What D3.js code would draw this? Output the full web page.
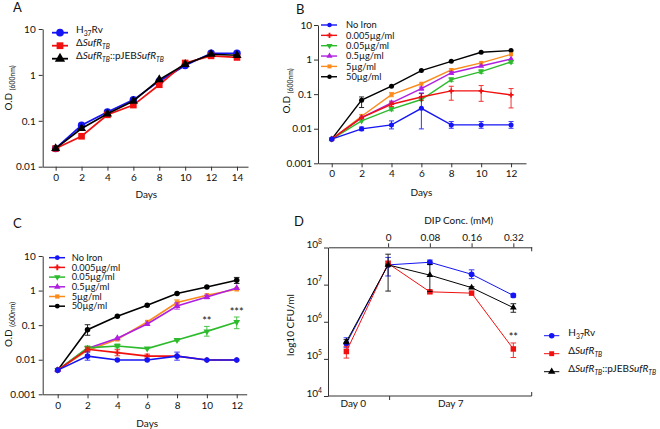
<!DOCTYPE html>
<html><head><meta charset="utf-8">
<script src="https://cdn.jsdelivr.net/npm/d3@7"></script>
<style>body{margin:0;background:#fff} svg{display:block} text{font-family:Lato,'Open Sans',sans-serif;fill:#111}</style>
</head><body><svg id="c" width="660" height="429"></svg>
<script>
// ---------- DATA ----------
// Panel A
const A_days = [0,2,4,6,8,10,12,14];
const A_H37Rv = [0.025,0.08,0.155,0.286,0.73,1.6,2.96,2.96];
const A_dSufR = [0.025,0.046,0.135,0.22,0.61,1.82,2.6,2.4];
const A_comp  = [0.025,0.068,0.142,0.27,0.79,1.7,2.82,2.68];
const A_yTicks = [0.01,0.1,1,10];
const A_yTickLabels = ["0.01","0.1","1","10"];
// Panel B
const B_days = [0,2,4,6,8,10,12];
const B_noIron = [0.005,0.0099,0.0129,0.039,0.0129,0.0129,0.0129];
const B_noIron_err = [null,[0.0088,0.0112],[0.0099,0.0168],[0.0099,0.108],[0.0103,0.0161],[0.0103,0.0161],[0.0103,0.0161]];
const B_fe0005 = [0.005,0.021,0.051,0.083,0.124,0.124,0.095];
const B_fe0005_err = [null,null,[0.044,0.059],[0.066,0.104],[0.0667,0.169],[0.062,0.177],[0.04,0.145]];
const B_fe005 = [0.005,0.0168,0.037,0.07,0.264,0.45,0.85];
const B_fe005_err = [null,null,[0.033,0.041],null,[0.23,0.3],[0.4,0.51],[0.78,0.93]];
const B_fe05 = [0.005,0.021,0.056,0.145,0.41,0.65,1.04];
const B_fe05_err = [null,null,[0.05,0.063],[0.13,0.16],[0.37,0.45],null,null];
const B_fe5 = [0.005,0.023,0.097,0.2,0.5,0.8,1.42];
const B_fe5_err = [null,[0.021,0.026],[0.084,0.112],null,[0.46,0.54],null,null];
const B_fe50 = [0.005,0.067,0.17,0.48,0.89,1.63,1.82];
const B_fe50_err = [null,[0.041,0.083],null,null,null,null,null];
// Panel C
const C_days = [0,2,4,6,8,10,12];
const C_noIron = [0.005,0.0127,0.0098,0.0098,0.0127,0.0098,0.0098];
const C_noIron_err = [null,[0.0097,0.0166],null,null,[0.0097,0.0166],null,null];
const C_fe0005 = [0.005,0.02,0.016,0.0127,0.0127,0.0098,0.0098];
const C_fe0005_err = [null,[0.0175,0.023],[0.013,0.0195],[0.0112,0.0145],null,null,null];
const C_fe005 = [0.005,0.022,0.025,0.021,0.037,0.066,0.123];
const C_fe005_err = [null,[0.0193,0.025],[0.022,0.0285],null,[0.035,0.039],[0.048,0.092],[0.079,0.172]];
const C_fe05 = [0.005,0.021,0.042,0.108,0.358,0.65,1.19];
const C_fe05_err = [null,null,null,null,[0.29,0.44],[0.58,0.73],null];
const C_fe5 = [0.005,0.0186,0.039,0.123,0.45,0.73,1.09];
const C_fe5_err = [null,null,null,null,[0.37,0.54],null,null];
const C_fe50 = [0.005,0.074,0.18,0.375,0.82,1.27,2.0];
const C_fe50_err = [null,[0.051,0.103],null,null,null,null,[1.6,2.4]];
const BC_yTicks = [0.001,0.01,0.1,1,10];
const BC_yTickLabels = ["0.001","0.01","0.1","1","10"];
const ironLabels = ["No Iron","0.005\u00b5g/ml","0.05\u00b5g/ml","0.5\u00b5g/ml","5\u00b5g/ml","50\u00b5g/ml"];
// Panel D
const D_groups = ["Day0","0","0.08","0.16","0.32"];
const D_topTicks = ["0","0.08","0.16","0.32"];
const D_dayLabels = ["Day 0","Day 7"];
const D_H37Rv = [2.6e5,3.4e7,4.0e7,1.9e7,5.1e6];
const D_H37Rv_err = [[2.0e5,3.7e5],[1.71e7,5.4e7],[3.46e7,4.6e7],[1.45e7,2.5e7],[4.6e6,5.6e6]];
const D_dSufR = [1.58e5,3.7e7,6.4e6,5.9e6,1.85e5];
const D_dSufR_err = [[1.05e5,2.17e5],[3.3e7,4.3e7],[5.9e6,6.9e6],null,[1.09e5,2.68e5]];
const D_comp = [2.9e5,3.4e7,1.8e7,8.3e6,2.4e6];
const D_comp_err = [[2.55e5,3.3e5],[6.7e6,6.6e7],[6.5e6,3.5e7],[7.8e6,8.8e6],[1.8e6,3.06e6]];
const D_yTicks = [1e4,1e5,1e6,1e7,1e8];
const D_yExp = ["4","5","6","7","8"];
// Legend labels (segments: "" normal, i italic, s subscript, si italic subscript)
const strainLabels = [
  [["H",""],["37","s"],["Rv",""]],
  [["\u0394",""],["SufR","i"],["TB","si"]],
  [["\u0394",""],["SufR","i"],["TB","si"],["::pJEB",""],["SufR","i"],["TB","si"]]
];
const odLabel = [["O.D ",""],["(600nm)","s"]];

// ---------- HELPERS ----------
const svg = d3.select("#c");
const AX = "#333";
const COL = {blue:"#1414f5", red:"#f01010", green:"#2dbb2d", purple:"#b01fe0", orange:"#fb8c1c", black:"#000"};
const TRI_DOWN = "down";

function rich(t, segs, fs){
  let shift = 0;
  segs.forEach(([txt, st])=>{
    const sub = st.includes('s'), sup = st.includes('p'), it = st.includes('i');
    const target = sub ? fs*0.28 : (sup ? -fs*0.4 : 0);
    t.append('tspan').text(txt)
      .attr('font-size', (sub||sup) ? fs*0.68 : fs)
      .attr('font-style', it ? 'italic':'normal')
      .attr('dy', target - shift);
    shift = target;
  });
}
function symPath(type, size){
  const map = {circle:d3.symbolCircle, square:d3.symbolSquare, triUp:d3.symbolTriangle, down:d3.symbolTriangle, cross:d3.symbolCross};
  return d3.symbol().type(map[type]).size(size)();
}
function marker(g, type, size, color, x, y){
  g.append('path').attr('d', symPath(type,size)).attr('fill', color)
   .attr('transform', `translate(${x},${y})` + (type===TRI_DOWN ? ' rotate(180)' : ''));
}
function drawSeries(g, xs, ys, xv, vals, errs, s){
  const idx = vals.map((v,i)=>i).filter(i=>vals[i]!=null);
  if (errs) errs.forEach((e,i)=>{
    if(!e) return;
    const x = xs(xv[i]);
    const eg = g.append('g').attr('stroke', s.color).attr('stroke-width', s.ew||1).attr('opacity',0.85);
    eg.append('line').attr('x1',x).attr('x2',x).attr('y1',ys(e[0])).attr('y2',ys(e[1]));
    [e[0],e[1]].forEach(v=>eg.append('line').attr('x1',x-s.cap).attr('x2',x+s.cap).attr('y1',ys(v)).attr('y2',ys(v)));
  });
  g.append('path').attr('fill','none').attr('stroke',s.color).attr('stroke-width',s.lw)
   .attr('d', d3.line().x(i=>xs(xv[i])).y(i=>ys(vals[i]))(idx));
  idx.forEach(i=>marker(g, s.sym, s.size, s.color, xs(xv[i]), ys(vals[i])));
}
function styleAxis(a, fs){
  a.selectAll('path,line').attr('stroke', AX).attr('stroke-width',1);
  a.selectAll('text').attr('font-size', fs).attr('fill','#111').style('font-family','Lato,sans-serif');
}
function yLabel(x, y, segs, fs){
  const t = svg.append('text').attr('transform',`translate(${x},${y}) rotate(-90)`).attr('text-anchor','middle');
  rich(t, segs, fs);
}
function legend(x0, x1, xm, xt, y0, dy, items, fs, lw, size){
  items.forEach((it,i)=>{
    const y = y0 + i*dy;
    svg.append('line').attr('x1',x0).attr('x2',x1).attr('y1',y).attr('y2',y).attr('stroke',it.color).attr('stroke-width',lw);
    marker(svg, it.sym, size, it.color, xm, y);
    const t = svg.append('text').attr('x',xt).attr('y',y).attr('dy','0.35em').attr('font-size',fs);
    if (Array.isArray(it.label)) rich(t, it.label, fs); else t.text(it.label);
  });
}
function panelLetter(l, x, y){ svg.append('text').attr('x',x).attr('y',y).attr('font-size',13).text(l); }

// ---------- PANEL A ----------
{
  const xs = d3.scaleLinear().domain([-1,14.85]).range([42.7,248]);
  const ys = d3.scaleLog().domain([0.01,10]).range([166.7,29]);
  const ax = svg.append('g').attr('transform','translate(0,166.7)')
    .call(d3.axisBottom(xs).tickValues(A_days).tickFormat(d3.format('d')).tickSize(4).tickSizeOuter(0).tickPadding(3));
  styleAxis(ax, 10);
  const ay = svg.append('g').attr('transform','translate(42.7,0)')
    .call(d3.axisLeft(ys).tickValues(A_yTicks).tickFormat((d,i)=>A_yTickLabels[i]).tickSize(4).tickSizeOuter(0).tickPadding(3));
  styleAxis(ay, 10);
  svg.append('text').attr('x',xs(7)).attr('y',194).attr('dy','0.35em').attr('text-anchor','middle').attr('font-size',10).text('Days');
  yLabel(12, 88, odLabel, 10);
  panelLetter('A', 13, 12);
  const g = svg.append('g');
  const S = [
    {vals:A_H37Rv, color:COL.blue, sym:'circle', size:44, label:strainLabels[0]},
    {vals:A_dSufR, color:COL.red, sym:'square', size:44, label:strainLabels[1]},
    {vals:A_comp, color:COL.black, sym:'triUp', size:36, label:strainLabels[2]}
  ];
  S.forEach(s=>{ s.lw=1.7; s.cap=3; drawSeries(g, xs, ys, A_days, s.vals, null, s); });
  legend(52, 68, 60, 76, 32.7, 13, S, 10, 1.8, 46);
}

// ---------- PANEL B ----------
function ironSeries(vals, errs){
  const cols = [COL.blue, COL.red, COL.green, COL.purple, COL.orange, COL.black];
  const syms = ['circle','cross','down','triUp','square','circle'];
  return vals.map((v,i)=>({vals:v, err:errs[i], color:cols[i], sym:syms[i], label:ironLabels[i]}));
}
{
  const xs = d3.scaleLinear().domain([-0.917,13.0]).range([318,526]);
  const ys = d3.scaleLog().domain([0.001,10]).range([163.3,25]);
  const ax = svg.append('g').attr('transform','translate(0,163.3)')
    .call(d3.axisBottom(xs).tickValues(B_days).tickFormat(d3.format('d')).tickSize(4).tickSizeOuter(0).tickPadding(3));
  styleAxis(ax, 10);
  const ay = svg.append('g').attr('transform','translate(318,0)')
    .call(d3.axisLeft(ys).tickValues(BC_yTicks).tickFormat((d,i)=>BC_yTickLabels[i]).tickSize(4).tickSizeOuter(0).tickPadding(2));
  styleAxis(ay, 10);
  svg.append('text').attr('x',xs(6)).attr('y',192).attr('dy','0.35em').attr('text-anchor','middle').attr('font-size',10).text('Days');
  yLabel(290, 91, odLabel, 10);
  panelLetter('B', 296, 14);
  const g = svg.append('g');
  const S = ironSeries([B_noIron,B_fe0005,B_fe005,B_fe05,B_fe5,B_fe50],[B_noIron_err,B_fe0005_err,B_fe005_err,B_fe05_err,B_fe5_err,B_fe50_err]);
  S.forEach(s=>{ s.lw=1.4; s.cap=2.5; s.size = s.sym==='cross'?14:(s.sym==='circle'?20:16); });
  S.slice().reverse().forEach(s=>drawSeries(g, xs, ys, B_days, s.vals, s.err, s));
  legend(321, 337, 329.5, 346, 25, 10.35, S, 9.3, 1.4, 16);
}

// ---------- PANEL C ----------
{
  const xs = d3.scaleLinear().domain([-1.005,12.67]).range([42.7,246.7]);
  const ys = d3.scaleLog().domain([0.001,10]).range([394.3,256]);
  const ax = svg.append('g').attr('transform','translate(0,394.3)')
    .call(d3.axisBottom(xs).tickValues(C_days).tickFormat(d3.format('d')).tickSize(4).tickSizeOuter(0).tickPadding(4));
  styleAxis(ax, 10);
  const ay = svg.append('g').attr('transform','translate(42.7,0)')
    .call(d3.axisLeft(ys).tickValues(BC_yTicks).tickFormat((d,i)=>BC_yTickLabels[i]).tickSize(4).tickSizeOuter(0).tickPadding(3));
  styleAxis(ay, 10);
  svg.append('text').attr('x',xs(6)).attr('y',423.3).attr('dy','0.35em').attr('text-anchor','middle').attr('font-size',10).text('Days');
  yLabel(12, 324.5, odLabel, 10);
  panelLetter('C', 13, 228);
  const g = svg.append('g');
  const S = ironSeries([C_noIron,C_fe0005,C_fe005,C_fe05,C_fe5,C_fe50],[C_noIron_err,C_fe0005_err,C_fe005_err,C_fe05_err,C_fe5_err,C_fe50_err]);
  S.forEach(s=>{ s.lw=1.6; s.cap=2.8; s.size = s.sym==='cross'?16:(s.sym==='circle'?24:20); });
  S.slice().reverse().forEach(s=>drawSeries(g, xs, ys, C_days, s.vals, s.err, s));
  legend(49, 65, 57.3, 71.7, 257.7, 9.7, S, 9.3, 1.5, 18);
  svg.append('text').attr('x',xs(10)).attr('y',ys(C_fe005_err[5][1])-1).attr('text-anchor','middle').attr('font-size',11).text('**');
  svg.append('text').attr('x',xs(12)).attr('y',ys(C_fe005_err[6][1])-1).attr('text-anchor','middle').attr('font-size',11).text('***');
}

// ---------- PANEL D ----------
{
  const xs = d3.scalePoint().domain(D_groups).range([328,531.7]).padding(0.44);
  const ys = d3.scaleLog().domain([1e4,1e8]).range([396,247.5]);
  const ay = svg.append('g').attr('transform','translate(328,0)')
    .call(d3.axisLeft(ys).tickValues(D_yTicks).tickFormat('').tickSize(4).tickSizeOuter(0));
  styleAxis(ay, 10);
  ay.selectAll('.tick').each(function(d,i){
    const t = d3.select(this).append('text').attr('x',-6).attr('dy','0.35em').attr('text-anchor','end').attr('font-size',10).attr('fill','#111');
    rich(t, [["10",""],[D_yExp[i],"p"]], 10);
  });
  const at = svg.append('g').attr('transform','translate(0,247.3)')
    .call(d3.axisTop(xs).tickValues(D_topTicks).tickSize(4).tickSizeOuter(0).tickPadding(2));
  styleAxis(at, 10);
  svg.append('line').attr('x1',531.7).attr('x2',531.7).attr('y1',247.3).attr('y2',251.3).attr('stroke',AX);
  svg.append('text').attr('x',(xs('0')+xs('0.32'))/2+8).attr('y',220).attr('dy','0.35em').attr('text-anchor','middle').attr('font-size',10).text('DIP Conc.  (mM)');
  svg.append('line').attr('x1',328).attr('x2',531.7).attr('y1',396).attr('y2',396).attr('stroke',AX);
  svg.append('line').attr('x1',xs('0')+1.5).attr('x2',xs('0')+1.5).attr('y1',396).attr('y2',400).attr('stroke',AX);
  svg.append('line').attr('x1',531.7).attr('x2',531.7).attr('y1',392).attr('y2',396).attr('stroke',AX);
  svg.append('text').attr('x',xs('Day0')+7).attr('y',403.3).attr('dy','0.35em').attr('text-anchor','middle').attr('font-size',10).text(D_dayLabels[0]);
  svg.append('text').attr('x',(xs('0')+xs('0.32'))/2).attr('y',403.3).attr('dy','0.35em').attr('text-anchor','middle').attr('font-size',10).text(D_dayLabels[1]);
  yLabel(294, 325, [["log10 CFU/ml",""]], 10);
  panelLetter('D', 294, 226);
  const g = svg.append('g');
  const S = [
    {vals:D_H37Rv, err:D_H37Rv_err, color:COL.blue, sym:'circle', size:26, label:strainLabels[0]},
    {vals:D_dSufR, err:D_dSufR_err, color:COL.red, sym:'square', size:30, label:strainLabels[1]},
    {vals:D_comp, err:D_comp_err, color:COL.black, sym:'triUp', size:20, label:strainLabels[2]}
  ];
  S.forEach(s=>{ s.lw=1; s.cap=2.8; drawSeries(g, xs, ys, D_groups, s.vals, s.err, s); });
  legend(544, 559.3, 551.7, 568.3, 335.7, 18, S, 10, 1, 24);
  svg.append('text').attr('x',xs('0.32')).attr('y',ys(D_dSufR_err[4][1])-2).attr('text-anchor','middle').attr('font-size',11).text('**');
}
</script></body></html>
